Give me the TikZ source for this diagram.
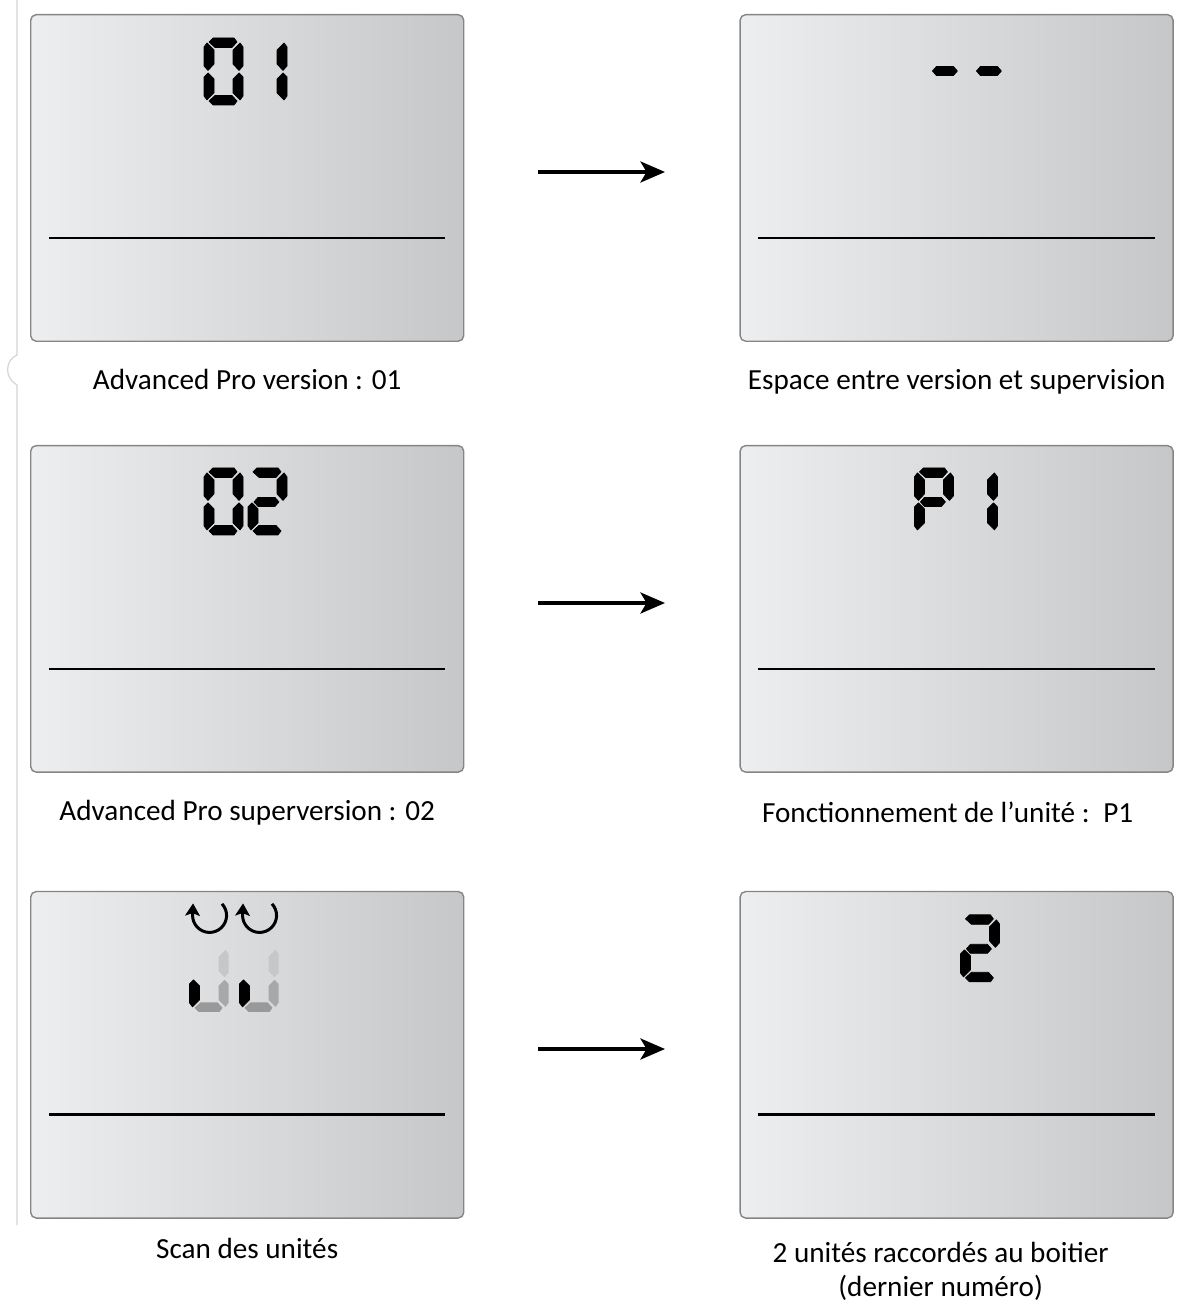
\documentclass[tikz,border=0pt]{standalone}
\usepackage{fontspec}
\setmainfont{Carlito}
\usetikzlibrary{positioning}
\usetikzlibrary{arrows.meta}

\def\segA{(5,4) -- (9,0) -- (30,0) -- (33,4) -- (28,9.5) -- (11,9.5) -- cycle}
\def\segB{(3,5) -- (0,9) -- (0,28) -- (4,32.5) -- (10,26) -- (10,12) -- cycle}
\def\segC{(36,5) -- (39,9) -- (39,28) -- (35,32.5) -- (29,26) -- (29,12) -- cycle}
\def\segD{(6,34) -- (10,29.5) -- (27,29.5) -- (31,34) -- (27,38.5) -- (10,38.5) -- cycle}
\def\segE{(4,35) -- (0,39) -- (0,58) -- (3,62) -- (10,55) -- (10,41) -- cycle}
\def\segF{(35,35) -- (39,39) -- (39,58) -- (36,62) -- (29,55) -- (29,41) -- cycle}
\def\segG{(5,63) -- (11,57.5) -- (28,57.5) -- (33,63) -- (30,67) -- (9,67) -- cycle}

\tikzset{
  pics/digit/.style={code={
    \foreach \s in {#1} {
      \expandafter\let\expandafter\curseg\csname seg\s\endcsname
      \fill[segfill] \curseg;
    }
  }},
  segfill/.style={fill=black,draw=black,line width=0.4pt,line join=round}
}
\definecolor{scrleft}{HTML}{EDEEF0}
\definecolor{scrright}{HTML}{C6C7C9}

\begin{document}
\begin{tikzpicture}[
  x=0.2mm,y=-0.2mm,
  node distance=2.06cm and 5.5cm,
  screen/.style={draw=black!48,line width=0.8pt,rounded corners=1.1mm,inner sep=0pt,
    minimum width=8.66cm,minimum height=6.53cm,left color=scrleft,right color=scrright},
  caption/.style={font=\fontsize{16.6}{19.3}\selectfont,align=center,inner sep=0pt},
  sepline/.style={line width=1.6pt,black},
  nextarrow/.style={line width=1.9pt,-{Stealth[length=14pt,width=12pt,inset=3.5pt]}},
  turnarrow/.style={line width=1.7pt,-{Stealth[length=7pt,width=8.4pt,inset=1.5pt]}}
]
\useasboundingbox (0,0) rectangle (1176,1304);

% margin line
\draw[black!17,line width=0.7pt] (17,0) -- (17,355) .. controls (5,360) and (4,378) .. (17,385) -- (17,1225);

\node[screen,anchor=north west] (s1) at (30,14) {};
\node[screen,right=of s1] (s2) {};
\node[screen,below=of s1] (s3) {};
\node[screen,right=of s3] (s4) {};
\node[screen,below=2.36cm of s3] (s5) {};
\node[screen,right=of s5] (s6) {};

\foreach \n in {s1,s2,s3,s4,s5,s6} {
  \coordinate (\n l) at ([shift={(19,224)}]\n.north west);
  \coordinate (\n r) at ([shift={(-19,224)}]\n.north east);
  \draw[sepline] (\n l) -- (\n r);
}

% captions
\node[caption,below=0.54cm of s1] (c1) {Advanced Pro version : 01};
\node[caption,below=0.54cm of s2] (c2) {Espace entre version et supervision};
\node[caption,below=0.54cm of s3] (c3) {Advanced Pro superversion : 02};
\node[caption,below=0.58cm of s4,xshift=-0.18cm] (c4) {Fonctionnement de l’unité :\, P1};
\node[caption,below=0.38cm of s5] (c5) {Scan des unités};
\node[caption,below=0.46cm of s6,xshift=-0.32cm] (c6) {2 unités raccordés au boitier\\(dernier numéro)};

% digits
\pic at ([shift={(174,24)}]s1.north west) {digit={A,B,C,E,F,G}};
\pic at ([shift={(218,24)}]s1.north west) {digit={C,F}};
\pic at ([shift={(187,23)}]s2.north west) {digit={D}};
\pic at ([shift={(231,23)}]s2.north west) {digit={D}};
\pic at ([shift={(174,23)}]s3.north west) {digit={A,B,C,E,F,G}};
\pic at ([shift={(218,23)}]s3.north west) {digit={A,C,D,E,G}};
\pic at ([shift={(175,23)}]s4.north west) {digit={A,B,C,D,E}};
\pic at ([shift={(219,23)}]s4.north west) {digit={C,F}};
\pic at ([shift={(221,24)}]s6.north west) {digit={A,C,D,E,G}};

\foreach \dx in {159.5,209.5} {
  \pic at ([shift={(\dx,54)}]s5.north west) {digit={E}};
  \pic[segfill/.style={fill=black!40}] at ([shift={(\dx,54)}]s5.north west) {digit={G}};
  \pic[segfill/.style={fill=black!34}] at ([shift={(\dx,54)}]s5.north west) {digit={F}};
  \pic[segfill/.style={fill=black!22}] at ([shift={(\dx,54)}]s5.north west) {digit={C}};
}
\foreach \dx in {192,242} {
  \draw[turnarrow] ([shift={(\dx,13)}]s5.north west) arc[start angle=43,end angle=-180,radius=3.4mm] -- ++(0.5,-12);
}

% arrows between the screens
\coordinate (a1s) at (538,172);
\coordinate (a1e) at (665,172);
\coordinate (a2s) at (538,603);
\coordinate (a2e) at (665,603);
\coordinate (a3s) at (538,1049);
\coordinate (a3e) at (665,1049);
\draw[nextarrow] (a1s) -- (a1e);
\draw[nextarrow] (a2s) -- (a2e);
\draw[nextarrow] (a3s) -- (a3e);
\end{tikzpicture}
\end{document}
